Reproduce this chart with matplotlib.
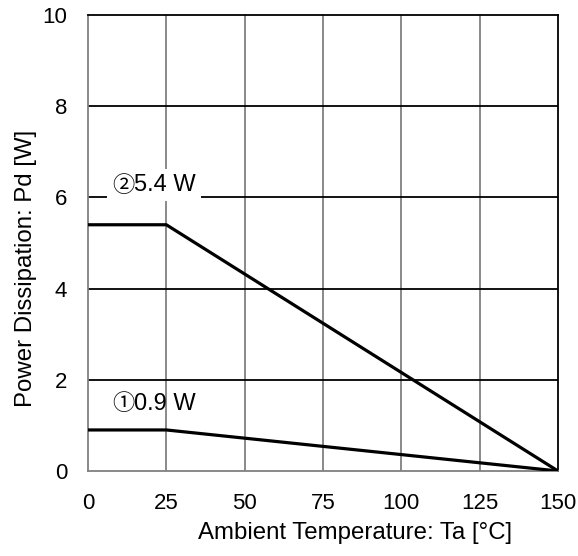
import matplotlib.pyplot as plt
from matplotlib.offsetbox import TextArea, HPacker, AnnotationBbox

plt.rcParams["font.family"] = ["Liberation Sans", "DejaVu Sans"]

# Derating curves
temp = [0, 25, 150]
pd_2 = [5.4, 5.4, 0]
pd_1 = [0.9, 0.9, 0]
xticks = [0, 25, 50, 75, 100, 125, 150]
yticks = [0, 2, 4, 6, 8, 10]

fig = plt.figure(figsize=(5.78, 5.56), dpi=100)
ax = fig.add_axes([88 / 578, 1 - 471 / 556, 470 / 578, 456 / 556])

for x in xticks[1:-1]:
    ax.axvline(x, color="#808080", lw=1.3, zorder=1)
for y in yticks[1:-1]:
    ax.axhline(y, color="black", lw=1.3, zorder=1)

ax.plot(temp, pd_2, color="black", lw=2.3, zorder=3)
ax.plot(temp, pd_1, color="black", lw=2.3, zorder=3)


def label(circ, txt, x, y, framed):
    box = HPacker(children=[
        TextArea(circ, textprops=dict(family=["Noto Sans CJK JP"], size=16)),
        TextArea(txt, textprops=dict(size=17)),
    ], sep=0, pad=0, align="center")
    ab = AnnotationBbox(box, (x, y), frameon=framed, pad=0.35, zorder=4,
                        bboxprops=dict(facecolor="white", edgecolor="none"))
    ax.add_artist(ab)


label("②", "5.4 W", 21, 6.27, True)
label("①", "0.9 W", 21, 1.47, False)

ax.set_xlim(0, 150)
ax.set_ylim(0, 10)
ax.set_xticks(xticks)
ax.set_yticks(yticks)
ax.tick_params(length=0, labelsize=16)
ax.tick_params(axis="x", pad=16)
ax.tick_params(axis="y", pad=15)

for side in ["left", "bottom"]:
    ax.spines[side].set_color("#808080")
    ax.spines[side].set_linewidth(1.3)
for side in ["top", "right"]:
    ax.spines[side].set_color("black")
    ax.spines[side].set_linewidth(1.3)

ax.set_xlabel("Ambient Temperature: Ta [°C]", fontsize=17.3, labelpad=5.5, x=0.568)
ax.set_ylabel("Power Dissipation: Pd [W]", fontsize=17.3, labelpad=3.5, y=0.445)

fig.savefig("out.png", dpi=100)
